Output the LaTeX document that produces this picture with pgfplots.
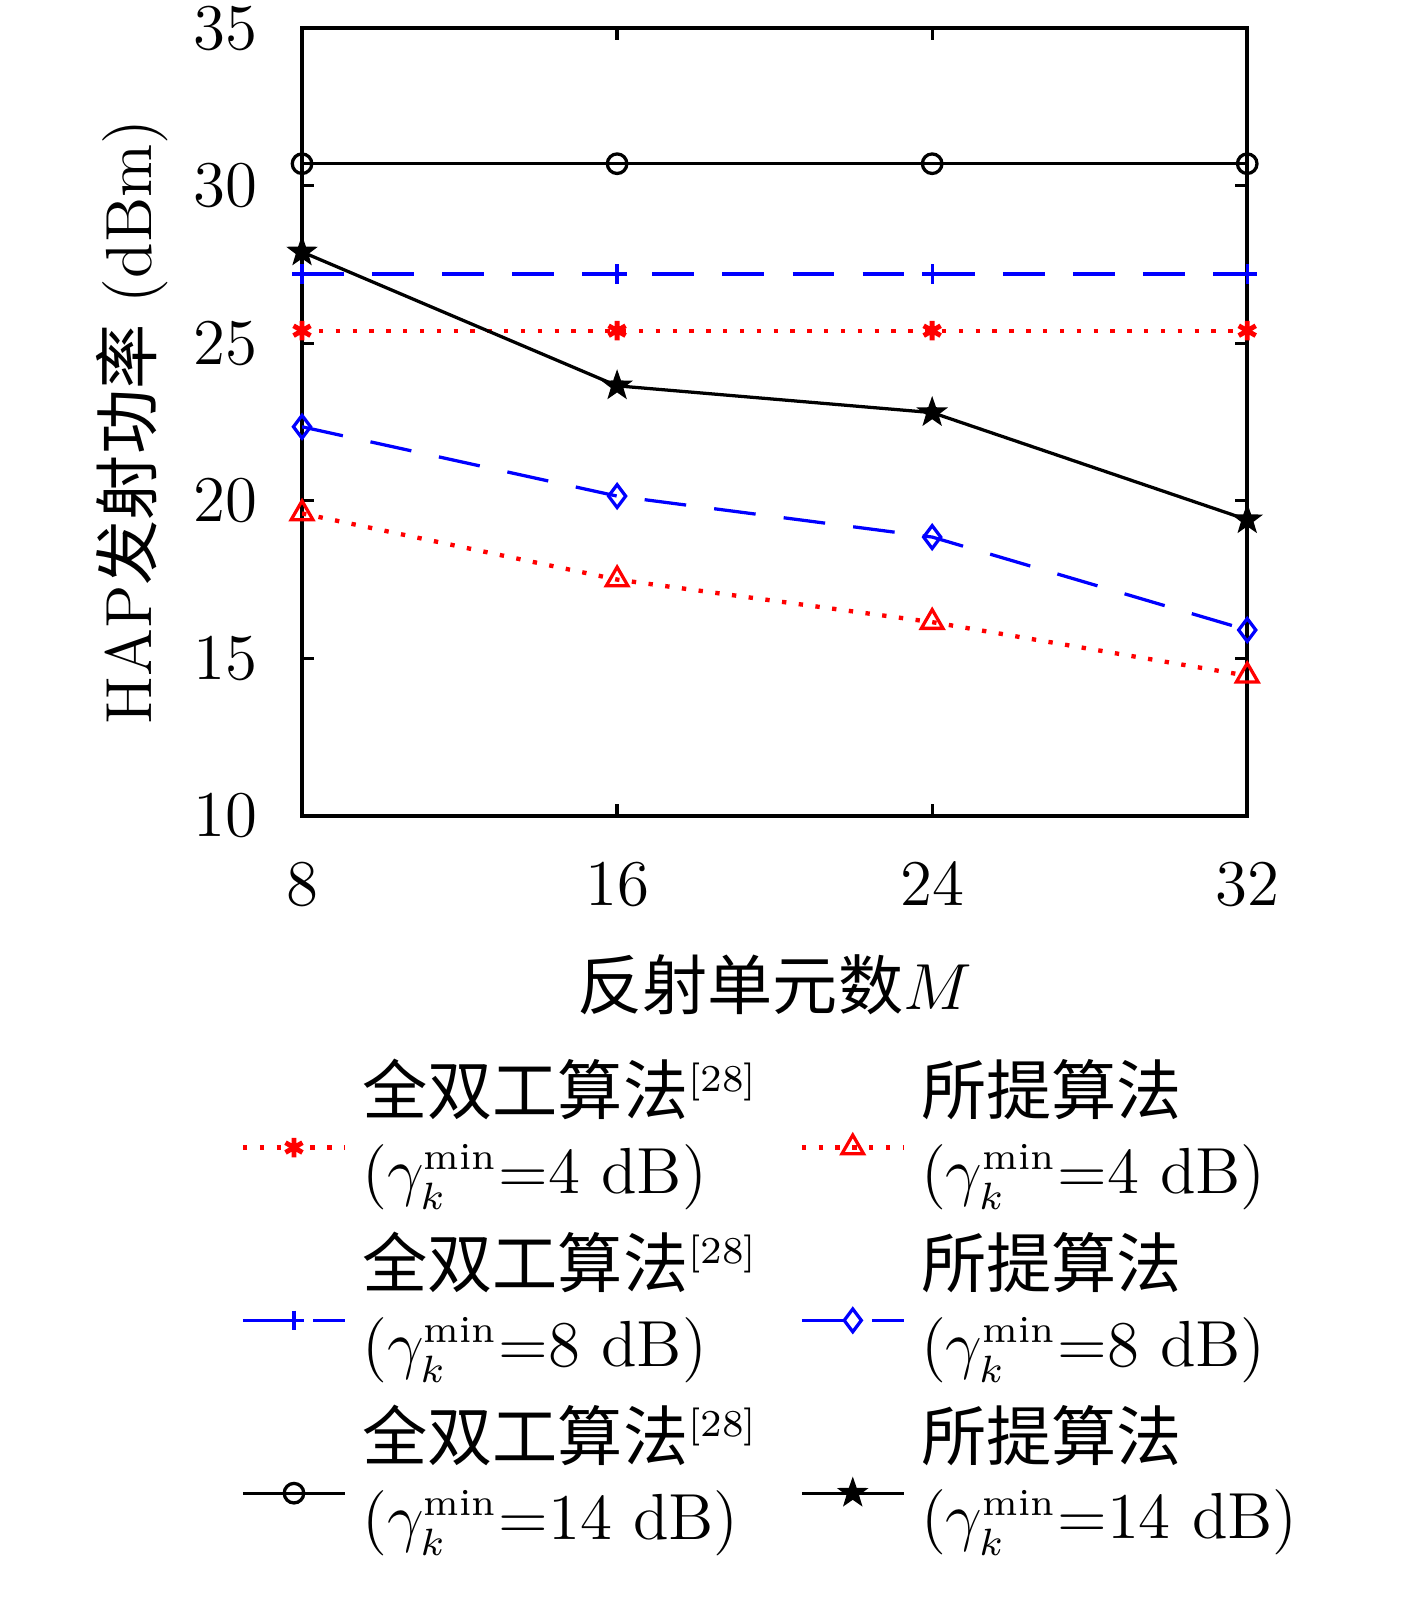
\documentclass[border=0pt]{standalone}
\usepackage{fontspec}
\usepackage{pgfplots}
\pgfplotsset{compat=1.18}
\newfontfamily\cjk{Noto Sans CJK SC}
\DeclareMathSizes{12}{12}{7}{5}
\pgfdeclareplotmark{fstar}{%
  \pgfpathmoveto{\pgfpointpolar{90}{\pgfplotmarksize}}%
  \pgfpathlineto{\pgfpointpolar{126}{0.40\pgfplotmarksize}}%
  \pgfpathlineto{\pgfpointpolar{162}{\pgfplotmarksize}}%
  \pgfpathlineto{\pgfpointpolar{198}{0.40\pgfplotmarksize}}%
  \pgfpathlineto{\pgfpointpolar{234}{\pgfplotmarksize}}%
  \pgfpathlineto{\pgfpointpolar{270}{0.40\pgfplotmarksize}}%
  \pgfpathlineto{\pgfpointpolar{306}{\pgfplotmarksize}}%
  \pgfpathlineto{\pgfpointpolar{342}{0.40\pgfplotmarksize}}%
  \pgfpathlineto{\pgfpointpolar{18}{\pgfplotmarksize}}%
  \pgfpathlineto{\pgfpointpolar{54}{0.40\pgfplotmarksize}}%
  \pgfpathclose
  \pgfusepathqfillstroke
}
\newcommand{\entry}[2]{#1\\($\gamma_k^{\min}$=#2 dB)}
\newcommand{\refn}{\textsuperscript{\fontsize{7}{8}\selectfont[28]}}
\begin{document}
\fontsize{12}{14.5}\selectfont
\begin{tikzpicture}
\begin{axis}[
  name=ax,
  at={(174pt,145pt)}, anchor=north east,
  scale only axis,
  width=174pt, height=145pt,
  xmin=8, xmax=32, ymin=10, ymax=35,
  xtick={8,16,24,32},
  ytick={10,15,20,25,30,35},
  tick align=inside,
  major tick length=2.2pt,
  axis line style={line width=0.8pt},
  every tick/.style={black, line width=0.6pt},
  xticklabel style={yshift=-4.5pt},
  yticklabel style={xshift=-4pt},
  xlabel={{\cjk 反射单元数}$M$},
  ylabel={HAP{\cjk 发射功率} (dBm)},
  xlabel style={yshift=-1pt},
  ylabel style={yshift=-3.5pt},
  legend columns=2,
  legend cell align=left,
  legend style={draw=none, fill=none, at={(0.5,-0.28)}, anchor=north,
    cells={align=left},
    row sep=1.3pt,
    /tikz/every odd column/.append style={column sep=0.8pt},
    /tikz/every even column/.append style={column sep=5.5pt}},
  legend image code/.code={\draw[mark repeat=2,mark phase=2] plot coordinates {(0cm,-3pt) (0.33cm,-3pt) (0.66cm,-3pt)};},
]
% Full-duplex 4 dB
\addplot[red, line width=0.8pt, dash pattern=on 0.8pt off 2.3pt, mark=asterisk, mark size=1.8pt, mark options={solid, line width=0.9pt}]
  coordinates {(8,25.4) (16,25.4) (24,25.4) (32,25.4)};
\addlegendentry{\entry{{\cjk 全双工算法}\refn}{4}}
% Proposed 4 dB
\addplot[red, line width=0.8pt, dash pattern=on 0.8pt off 2.3pt, mark=triangle, mark size=2.3pt, mark options={solid, line width=0.6pt}]
  coordinates {(8,19.6) (16,17.5) (24,16.15) (32,14.45)};
\addlegendentry{\entry{\cjk 所提算法}{4}}
% Full-duplex 8 dB
\addplot[blue, line width=0.6pt, dash pattern=on 7.7pt off 5.2pt, mark=+, mark size=1.8pt, mark options={solid, line width=0.6pt}]
  coordinates {(8,27.2) (16,27.2) (24,27.2) (32,27.2)};
\addlegendentry{\entry{{\cjk 全双工算法}\refn}{8}}
% Proposed 8 dB
\addplot[blue, line width=0.6pt, dash pattern=on 7.7pt off 5.2pt, mark=diamond, mark size=2.1pt, mark options={solid, line width=0.6pt}]
  coordinates {(8,22.35) (16,20.15) (24,18.85) (32,15.9)};
\addlegendentry{\entry{\cjk 所提算法}{8}}
% Full-duplex 14 dB
\addplot[black, line width=0.6pt, mark=o, mark size=1.8pt, mark options={solid, line width=0.6pt}]
  coordinates {(8,30.7) (16,30.7) (24,30.7) (32,30.7)};
\addlegendentry{\entry{{\cjk 全双工算法}\refn}{14}}
% Proposed 14 dB
\addplot[black, line width=0.6pt, mark=fstar, mark size=2.6pt, mark options={solid, fill=black, line width=0.3pt}]
  coordinates {(8,27.9) (16,23.65) (24,22.8) (32,19.4)};
\addlegendentry{\entry{\cjk 所提算法}{14}}
\end{axis}
\pgfresetboundingbox
\path (-55.6pt,-146pt) rectangle (205.3pt,150.2pt);
\end{tikzpicture}
\end{document}
